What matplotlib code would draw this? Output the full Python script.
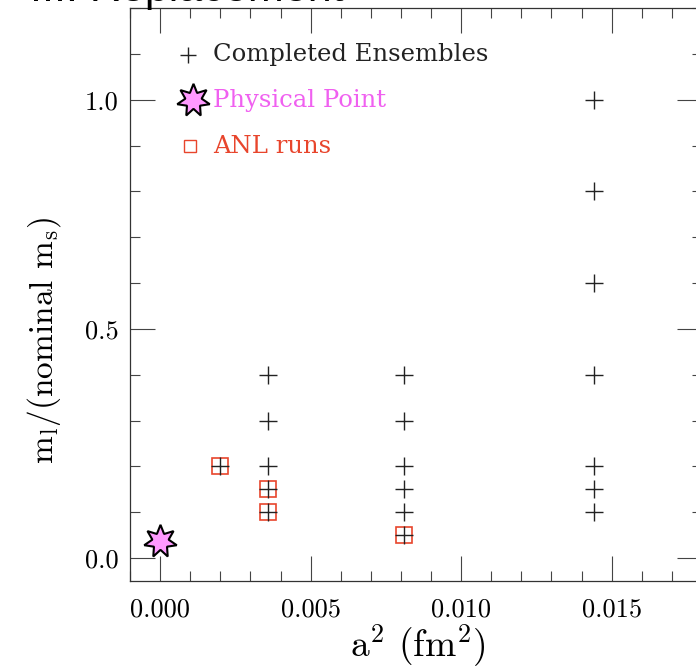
import matplotlib
matplotlib.use("Agg")
import matplotlib.pyplot as plt
from matplotlib.ticker import MultipleLocator, FormatStrFormatter

# completed ensembles: a^2 (fm^2) and m_l / m_s
ens_a2 = [0.0020, 0.0036, 0.0036, 0.0036, 0.0036, 0.0036,
          0.0081, 0.0081, 0.0081, 0.0081, 0.0081, 0.0081,
          0.0144, 0.0144, 0.0144, 0.0144, 0.0144, 0.0144, 0.0144]
ens_ml = [0.2, 0.4, 0.3, 0.2, 0.15, 0.1,
          0.4, 0.3, 0.2, 0.15, 0.1, 0.05,
          1.0, 0.8, 0.6, 0.4, 0.2, 0.15, 0.1]

# ANL runs
anl_a2 = [0.0020, 0.0036, 0.0036, 0.0081]
anl_ml = [0.2, 0.15, 0.1, 0.05]

# physical point
phys_a2 = [0.0]
phys_ml = [0.037]

plt.rcParams['font.family'] = ['cmr10', 'DejaVu Serif']
plt.rcParams['mathtext.fontset'] = 'cm'
plt.rcParams['axes.unicode_minus'] = False
plt.rcParams['axes.formatter.use_mathtext'] = True

red = '#e8452c'
magenta = '#f060f0'

fig = plt.figure(figsize=(6.96, 6.69), dpi=100)
ax = fig.add_axes([130/696, 1 - 581/669, 572/696, 573/669])

ax.plot(anl_a2, anl_ml, ls='none', marker='s', ms=12, mfc='none', mec=red, mew=1.2)
ax.plot(ens_a2, ens_ml, ls='none', marker='+', ms=13, color='#222222', mew=1.0)
ax.plot(phys_a2, phys_ml, ls='none', marker=(7, 1, 0), ms=24, mfc='#ff99ff', mec='black', mew=1.5,
        clip_on=False, zorder=5)

# hand-made legend
t = ax.transAxes
lfont = dict(fontsize=17.5, family='DejaVu Serif', va='center', transform=t)
ax.plot([0.101], [0.918], transform=t, marker='+', ms=11, color='#222222', mew=1.0)
ax.text(0.1446, 0.918, 'Completed Ensembles', color='#222222', **lfont)
ax.plot([0.110], [0.839], transform=t, marker=(7, 1, 0), ms=24, mfc='#ff99ff', mec='black', mew=1.5)
ax.text(0.1446, 0.839, 'Physical Point', color=magenta, **lfont)
ax.plot([0.1045], [0.759], transform=t, marker='s', ms=9, mfc='none', mec=red, mew=1.0)
ax.text(0.1446, 0.759, 'ANL runs', color=red, **lfont)

ax.set_xlim(-0.001, 0.018)
ax.set_ylim(-0.05, 1.2)
ax.xaxis.set_major_locator(MultipleLocator(0.005))
ax.xaxis.set_minor_locator(MultipleLocator(0.001))
ax.yaxis.set_major_locator(MultipleLocator(0.5))
ax.yaxis.set_minor_locator(MultipleLocator(0.1))
ax.xaxis.set_major_formatter(FormatStrFormatter('%.3f'))
ax.yaxis.set_major_formatter(FormatStrFormatter('%.1f'))

ax.tick_params(which='both', direction='in', top=True, right=True, color='#444444', width=0.8)
ax.tick_params(which='major', length=18, labelsize=19)
ax.tick_params(axis='x', which='major', pad=12)
ax.tick_params(axis='y', which='major', pad=8)
ax.tick_params(which='minor', length=7.5)
for s in ax.spines.values():
    s.set_linewidth(0.9)
    s.set_color('#333333')

ax.set_xlabel(r'a$^\mathrm{2}$ (fm$^\mathrm{2}$)', fontsize=27)
ax.xaxis.set_label_coords(0.503, -0.072)
ax.set_ylabel(r'm$_\mathrm{l}$/(nominal m$_\mathrm{s}$)', fontsize=24)
ax.yaxis.set_label_coords(-0.118, 0.42)

fig.text(30/696, 1 - 1/669, 'III. Replacement', fontsize=31, family='Liberation Sans',
         va='baseline', ha='left', color='black')

fig.savefig('out.png', dpi=100)
